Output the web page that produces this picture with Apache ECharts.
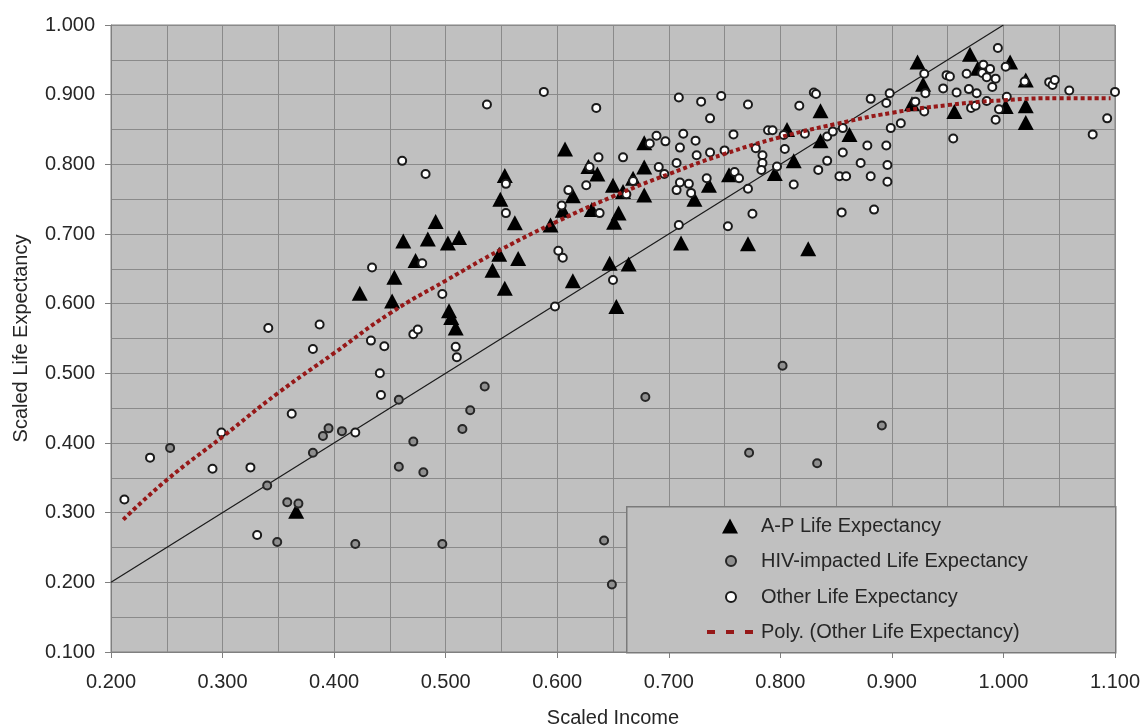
<!DOCTYPE html>
<html>
<head>
<meta charset="utf-8">
<title>Scaled Life Expectancy vs Scaled Income</title>
<script src="https://cdn.jsdelivr.net/npm/echarts@6/dist/echarts.min.js"></script>
<style>
  html, body { margin: 0; padding: 0; background: #fff; }
  #chart { width: 1143px; height: 727px; }
</style>
</head>
<body>
<div id="chart"></div>
<script>
// A-P life expectancy (triangles)
var apPoints = [
  [0.366, 0.302], [0.423, 0.615], [0.452, 0.604], [0.454, 0.638], [0.462, 0.690],
  [0.473, 0.662], [0.484, 0.693], [0.491, 0.718], [0.502, 0.687], [0.512, 0.695],
  [0.503, 0.590], [0.505, 0.580], [0.509, 0.565], [0.542, 0.648], [0.548, 0.671],
  [0.553, 0.622], [0.549, 0.750], [0.553, 0.784], [0.562, 0.716], [0.565, 0.665],
  [0.594, 0.713], [0.605, 0.734], [0.607, 0.822], [0.614, 0.755], [0.614, 0.633],
  [0.628, 0.797], [0.631, 0.735], [0.636, 0.786], [0.647, 0.658], [0.650, 0.770],
  [0.651, 0.717], [0.655, 0.730], [0.653, 0.596], [0.659, 0.761], [0.664, 0.657],
  [0.668, 0.780], [0.678, 0.756], [0.678, 0.796], [0.678, 0.831], [0.711, 0.687],
  [0.723, 0.750], [0.736, 0.770], [0.754, 0.785], [0.771, 0.686], [0.795, 0.787],
  [0.806, 0.850], [0.812, 0.805], [0.825, 0.679], [0.836, 0.877], [0.836, 0.834],
  [0.862, 0.843], [0.918, 0.887], [0.923, 0.947], [0.928, 0.915], [0.956, 0.876],
  [0.970, 0.958], [0.977, 0.938], [1.002, 0.883], [1.006, 0.947], [1.020, 0.921],
  [1.020, 0.884], [1.020, 0.860]
];

// HIV-impacted life expectancy (grey circles)
var hivPoints = [
  [0.253, 0.393], [0.340, 0.339], [0.349, 0.258], [0.358, 0.315], [0.368, 0.313],
  [0.381, 0.386], [0.390, 0.410], [0.395, 0.421], [0.407, 0.417], [0.419, 0.255],
  [0.458, 0.462], [0.458, 0.366], [0.471, 0.402], [0.480, 0.358], [0.497, 0.255],
  [0.515, 0.420], [0.522, 0.447], [0.535, 0.481], [0.642, 0.260], [0.649, 0.197],
  [0.679, 0.466], [0.772, 0.386], [0.802, 0.511], [0.833, 0.371], [0.891, 0.425]
];

// other life expectancy (white circles)
var otherPoints = [
  [0.212, 0.319], [0.235, 0.379], [0.291, 0.363], [0.299, 0.415], [0.325, 0.365],
  [0.331, 0.268], [0.341, 0.565], [0.362, 0.442], [0.381, 0.535], [0.387, 0.570],
  [0.419, 0.415], [0.433, 0.547], [0.434, 0.652], [0.441, 0.500], [0.442, 0.469],
  [0.445, 0.539], [0.461, 0.805], [0.471, 0.556], [0.475, 0.563], [0.479, 0.658],
  [0.482, 0.786], [0.497, 0.614], [0.509, 0.538], [0.510, 0.523], [0.537, 0.886],
  [0.554, 0.772], [0.554, 0.730], [0.588, 0.904], [0.598, 0.596], [0.601, 0.676],
  [0.605, 0.666], [0.604, 0.741], [0.610, 0.763], [0.626, 0.770], [0.629, 0.796],
  [0.635, 0.881], [0.637, 0.810], [0.638, 0.730], [0.650, 0.634], [0.659, 0.810],
  [0.662, 0.757], [0.668, 0.776], [0.683, 0.830], [0.689, 0.841], [0.691, 0.796],
  [0.696, 0.786], [0.697, 0.833], [0.707, 0.802], [0.707, 0.763], [0.709, 0.896],
  [0.709, 0.713], [0.710, 0.824], [0.710, 0.774], [0.713, 0.844], [0.718, 0.772],
  [0.720, 0.759], [0.724, 0.834], [0.725, 0.813], [0.729, 0.890], [0.734, 0.780],
  [0.737, 0.866], [0.737, 0.817], [0.747, 0.898], [0.750, 0.820], [0.753, 0.711],
  [0.758, 0.843], [0.759, 0.789], [0.763, 0.780], [0.771, 0.886], [0.771, 0.765],
  [0.775, 0.729], [0.778, 0.823], [0.784, 0.813], [0.784, 0.802], [0.783, 0.792],
  [0.789, 0.849], [0.793, 0.849], [0.797, 0.797], [0.803, 0.842], [0.804, 0.822],
  [0.812, 0.771], [0.817, 0.884], [0.822, 0.844], [0.830, 0.903], [0.832, 0.901],
  [0.834, 0.792], [0.842, 0.840], [0.842, 0.805], [0.847, 0.847], [0.853, 0.783],
  [0.855, 0.731], [0.856, 0.852], [0.856, 0.817], [0.859, 0.783], [0.872, 0.802],
  [0.878, 0.827], [0.881, 0.894], [0.881, 0.783], [0.884, 0.735], [0.895, 0.827],
  [0.895, 0.888], [0.896, 0.799], [0.896, 0.775], [0.898, 0.902], [0.899, 0.852],
  [0.908, 0.859], [0.921, 0.890], [0.929, 0.930], [0.929, 0.876], [0.930, 0.902],
  [0.946, 0.909], [0.949, 0.928], [0.952, 0.926], [0.955, 0.837], [0.958, 0.903],
  [0.967, 0.930], [0.969, 0.908], [0.971, 0.881], [0.975, 0.884], [0.976, 0.902],
  [0.981, 0.931], [0.982, 0.943], [0.985, 0.925], [0.985, 0.891], [0.988, 0.937],
  [0.990, 0.911], [0.993, 0.923], [0.993, 0.864], [0.995, 0.967], [0.996, 0.879],
  [1.002, 0.940], [1.003, 0.897], [1.019, 0.919], [1.041, 0.918], [1.044, 0.914],
  [1.046, 0.921], [1.059, 0.906], [1.080, 0.843], [1.093, 0.866], [1.100, 0.904]
];

// polynomial trendline
var trendX = [0.211, 0.25, 0.30, 0.35, 0.40, 0.45, 0.50, 0.55, 0.60, 0.65, 0.70,
              0.75, 0.80, 0.85, 0.90, 0.95, 1.00, 1.05, 1.096];
var trendY = [0.290, 0.347, 0.409, 0.472, 0.529, 0.586, 0.633, 0.678, 0.718, 0.754, 0.786,
              0.815, 0.839, 0.858, 0.874, 0.885, 0.892, 0.895, 0.895];

// diagonal reference line (y = x)
var diagX = [0.2, 1.0];
var diagY = [0.2, 1.0];

var font = "'Liberation Sans', Arial, sans-serif";
var textColor = '#262626';
var trendColor = '#961818';

var myChart = echarts.init(document.getElementById('chart'));

// one legend per row so each icon can have its own size
function legendRow(name, top, left, iconW, iconH, textPad) {
  return {
    data: [name],
    orient: 'vertical',
    left: left,
    top: top,
    padding: 0,
    z: 20,
    itemWidth: iconW,
    itemHeight: iconH,
    selectedMode: false,
    textStyle: {
      fontFamily: font, fontSize: 20, color: textColor, lineHeight: 22,
      padding: [0, 0, 0, textPad]
    }
  };
}

var polyLegend = legendRow('Poly. (Other Life Expectancy)', 621, 705, 46, 14, 3);
polyLegend.itemStyle = { opacity: 0 };
polyLegend.lineStyle = { color: trendColor, width: 4, type: [8, 11] };

var option = {
  animation: false,
  backgroundColor: '#ffffff',
  grid: {
    left: 111, right: 28, top: 25, bottom: 75,
    outerBoundsMode: 'none',
    show: true,
    backgroundColor: '#c0c0c0',
    borderColor: '#808080',
    borderWidth: 1
  },
  graphic: [{
    type: 'rect',
    left: 626, top: 506,
    shape: { width: 489, height: 146 },
    style: { fill: '#c0c0c0', stroke: '#7a7a7a', lineWidth: 1.5 },
    z: 10
  }],
  legend: [
    legendRow('A-P Life Expectancy', 515, 722, 16, 15, 18),
    legendRow('HIV-impacted Life Expectancy', 550, 725, 10, 10, 20),
    legendRow('Other Life Expectancy', 586, 725, 10, 10, 20),
    polyLegend
  ],
  xAxis: {
    type: 'value',
    min: 0.2, max: 1.1, interval: 0.1,
    name: 'Scaled Income',
    nameLocation: 'middle',
    nameGap: 56,
    nameTextStyle: { fontFamily: font, fontSize: 20, color: textColor },
    axisLine: { show: true, lineStyle: { color: '#808080' } },
    axisTick: { show: true, length: 6, lineStyle: { color: '#808080' } },
    axisLabel: {
      margin: 20, fontFamily: font, fontSize: 20, color: textColor,
      formatter: function (v) { return v.toFixed(3); }
    },
    splitLine: { show: true, lineStyle: { color: '#8a8a8a', width: 1 } },
    minorTick: { show: false, splitNumber: 2 },
    minorSplitLine: { show: true, lineStyle: { color: '#8a8a8a', width: 1 } }
  },
  yAxis: {
    type: 'value',
    min: 0.1, max: 1.0, interval: 0.1,
    name: 'Scaled Life Expectancy',
    nameLocation: 'middle',
    nameGap: 80,
    nameTextStyle: { fontFamily: font, fontSize: 20, color: textColor },
    axisLine: { show: true, lineStyle: { color: '#808080' } },
    axisTick: { show: true, length: 6, lineStyle: { color: '#808080' } },
    axisLabel: {
      margin: 16, fontFamily: font, fontSize: 20, color: textColor,
      formatter: function (v) { return v.toFixed(3); }
    },
    splitLine: { show: true, lineStyle: { color: '#8a8a8a', width: 1 } },
    minorTick: { show: false, splitNumber: 2 },
    minorSplitLine: { show: true, lineStyle: { color: '#8a8a8a', width: 1 } }
  },
  series: [
    {
      name: 'y=x',
      type: 'line',
      data: diagX.map(function (x, i) { return [x, diagY[i]]; }),
      symbol: 'none',
      silent: true,
      lineStyle: { color: '#1a1a1a', width: 1.2 },
      z: 1
    },
    {
      name: 'A-P Life Expectancy',
      type: 'scatter',
      data: apPoints,
      symbol: 'triangle',
      symbolSize: [16, 15],
      itemStyle: { color: '#000000', opacity: 1 },
      z: 2
    },
    {
      name: 'HIV-impacted Life Expectancy',
      type: 'scatter',
      data: hivPoints,
      symbol: 'circle',
      symbolSize: 8,
      itemStyle: { color: '#8f8f8f', borderColor: '#262626', borderWidth: 2, opacity: 1 },
      z: 3
    },
    {
      name: 'Other Life Expectancy',
      type: 'scatter',
      data: otherPoints,
      symbol: 'circle',
      symbolSize: 8,
      itemStyle: { color: '#ffffff', borderColor: '#1a1a1a', borderWidth: 2, opacity: 1 },
      z: 4
    },
    {
      name: 'Poly. (Other Life Expectancy)',
      type: 'line',
      data: trendX.map(function (x, i) { return [x, trendY[i]]; }),
      smooth: true,
      symbol: 'none',
      silent: true,
      itemStyle: { color: trendColor },
      lineStyle: { color: trendColor, width: 4, type: [4, 3] },
      z: 5
    }
  ]
};

option && myChart.setOption(option);
</script>
</body>
</html>
